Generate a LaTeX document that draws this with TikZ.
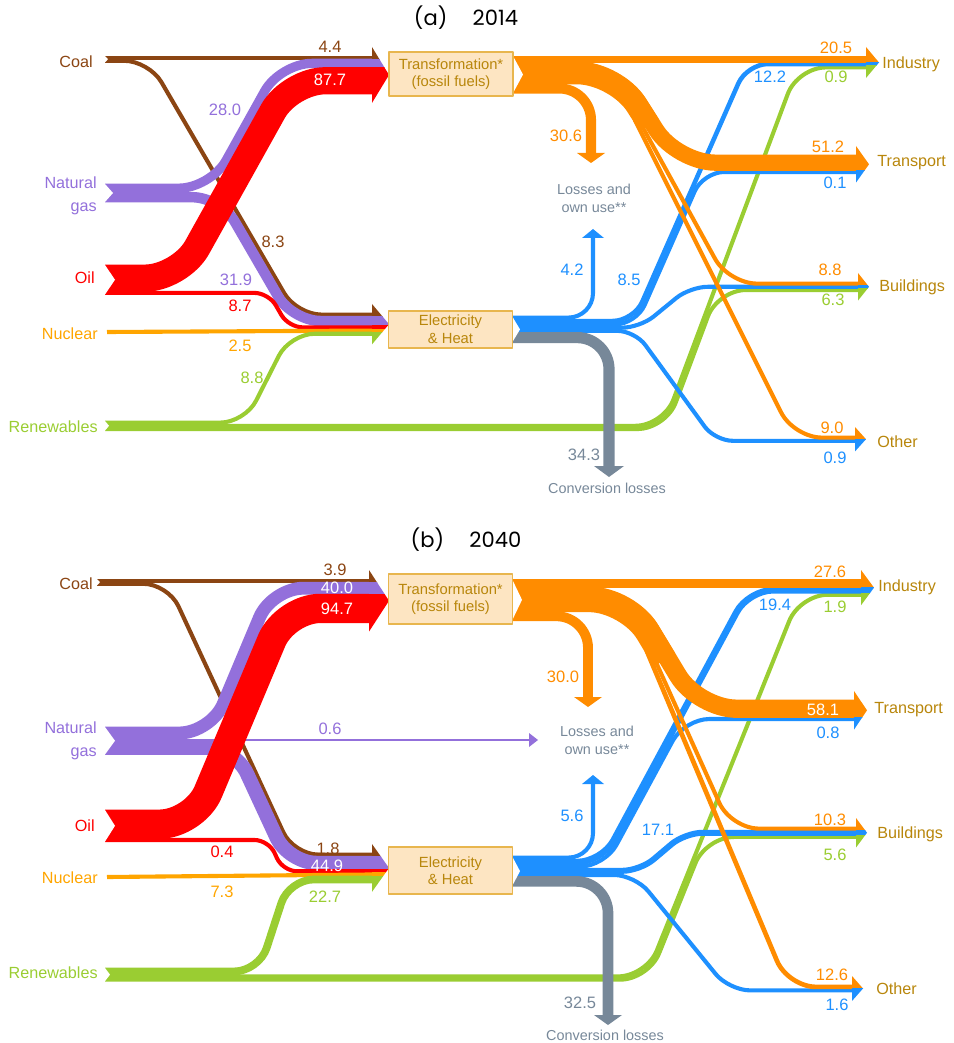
\documentclass[tikz,border=0pt]{standalone}
\usepackage{fontspec}
\setmainfont{Liberation Sans}
\newfontfamily\titlefont{Poppins}
\definecolor{cCoal}{HTML}{8B4513}
\definecolor{cGas}{HTML}{9370DB}
\definecolor{cOil}{HTML}{FF0000}
\definecolor{cNuc}{HTML}{FFA500}
\definecolor{cRen}{HTML}{9ACD32}
\definecolor{cTra}{HTML}{FF8C00}
\definecolor{cEle}{HTML}{1E90FF}
\definecolor{cLoss}{HTML}{778899}
\definecolor{cSect}{HTML}{B8860B}
\definecolor{cBoxFill}{HTML}{FDE5C2}
\definecolor{cBoxLine}{HTML}{E8B64E}
\tikzset{
  flow/.style={line width={(max(0.3*#1,3.2)+0.9)*0.569pt}},
  trunk/.style={line width={(#1+0.9)*0.569pt}},
  num/.style={font=\fontsize{9.4}{11}\selectfont, inner sep=0pt},
  src/.style={font=\fontsize{9.2}{13}\selectfont, inner sep=0pt, anchor=east, align=right},
  sector/.style={font=\fontsize{9.2}{11}\selectfont, inner sep=0pt, anchor=west, text=cSect},
  procbox/.style={draw=cBoxLine, fill=cBoxFill, line width=0.9pt, text=cSect, align=center,
    font=\fontsize{8.4}{10}\selectfont, minimum width=70.5pt, inner sep=0pt},
  sink/.style={font=\fontsize{8.2}{10.2}\selectfont, inner sep=0pt, text=cLoss, align=center},
  notch/.style={fill=white},
  paneltitle/.style={font=\titlefont\fontsize{12}{14}\selectfont, inner sep=0pt}
}
% arrow head made of the coloured bands: base x, tip x, top y, bottom y, bands
\newcommand\chev[5]{%
  \begin{scope}
    \clip (#1,#3-9) -- (#2,{(#3+#4)/2}) -- (#1,#4+9) -- cycle;
    \foreach \bc/\ya/\yb in {#5} \fill[\bc] (#1-1,\ya-0.4) rectangle (#2+1,\yb+0.4);
  \end{scope}}
\begin{document}
\begin{tikzpicture}[x=0.02cm, y=-0.02cm, line join=round]
\useasboundingbox (0,0) rectangle (953,1043);

%%%%% (a) 2014
\node[paneltitle] (titA) at (466,18) {(a)\hspace{1.2em}2014};
% primary energy
\draw[cCoal, flow=4.4] (105,57.6) -- (372,57.6);
\draw[cCoal, flow=8.3, rounded corners=14pt] (105,60.8) -- (149,60.8) -- (296.7,314.6) -- (372,314.6);
\draw[cGas, flow=28.0, rounded corners=18pt] (105,188.2) -- (210.6,188.2) -- (280.1,63.4) -- (372,63.4);
\draw[cGas, flow=31.9, rounded corners=16pt] (105,197.2) -- (220.6,197.2) -- (292.4,321) -- (372,321);
\draw[cOil, flow=87.7, rounded corners=20pt] (105,278.16) -- (180,278.16) -- (290,80.76) -- (372,80.76);
\draw[cOil, flow=8.7, rounded corners=8pt] (105,292.9) -- (268.6,292.9) -- (288.6,327.37) -- (372,327.37);
\draw[cNuc, flow=2.5] (107,332) -- (372,330.57);
\draw[cRen, flow=8.8, rounded corners=14pt] (105,422.6) -- (245,422.6) -- (290,333.77) -- (372,333.77);
\draw[cRen, flow=0.9, rounded corners=16pt] (105,425.8) -- (663.6,425.8) -- (797.7,67.41) -- (866,67.41);
\draw[cRen, flow=6.3, rounded corners=16pt] (105,429) -- (665.8,429) -- (717.8,290) -- (858,290);
% electricity & heat outputs
\draw[cEle, flow=12.2, rounded corners=12pt] (512,321.03) -- (633.8,321.03) -- (746.9,63.98) -- (866,63.98);
\draw[cEle, flow=0.1, rounded corners=12pt] (512,324.46) -- (636.1,324.46) -- (703.2,171.96) -- (856,171.96);
\draw[cEle, flow=8.5, rounded corners=10pt] (512,327.66) -- (640,327.66) -- (690,286.8) -- (858,286.8);
\draw[cEle, flow=0.9, rounded corners=10pt] (512,330.86) -- (635,330.86) -- (715,440.8) -- (855,440.8);
\draw[cEle, trunk=13.26] (512,325.83) -- (614,325.83);
\draw[cEle, flow=4.2, rounded corners=14pt] (512,317.6) -- (593,317.6) -- (593,238);
\fill[cEle] (582,238) -- (604,238) -- (593,229) -- cycle;
\draw[cLoss, flow=34.3, rounded corners=18pt] (512,337.6) -- (609,337.6) -- (609,466);
\fill[cLoss] (594,466) -- (624,466) -- (609,477) -- cycle;
% transformation outputs
\draw[cTra, flow=20.5] (513,59.08) -- (866,59.08);
\draw[cTra, flow=8.8, rounded corners=16pt] (638.7,120) -- (728.7,283.6) -- (858,283.6);
\draw[cTra, flow=9.0, rounded corners=16pt] (634.9,120) -- (793.7,437.6) -- (855,437.6);
\draw[cTra, trunk=21.76, rounded corners=22pt] (513,73.03) -- (616.2,73.03) -- (649.1,125);
\draw[cTra, flow=51.2, rounded corners=22pt] (513,69.83) -- (618,69.83) -- (677,162.68) -- (856,162.68);
\draw[cTra, flow=30.6, rounded corners=18pt] (513,88.5) -- (591,88.5) -- (591,153);
\fill[cTra] (577,153) -- (605,153) -- (591,163) -- cycle;
% arrow heads
\chev{372}{389}{56}{93.91}{cCoal/46/59.2, cGas/59.2/67.6, cOil/67.6/104}
\chev{372}{389}{313}{335.37}{cCoal/303/316.2, cGas/316.2/325.77, cOil/325.77/328.97, cNuc/328.97/332.17, cRen/332.17/346}
\chev{866}{879}{56}{69.01}{cTra/46/62.15, cEle/62.15/65.81, cRen/65.81/80}
\chev{856}{869}{155}{173.56}{cTra/145/170.36, cEle/170.36/184}
\chev{858}{869}{282}{291.6}{cTra/272/285.2, cEle/285.2/288.4, cRen/288.4/302}
\chev{855}{866}{436}{442.4}{cTra/426/439.2, cEle/439.2/453}
% tails
\fill[notch] (105,56) -- (108,59.2) -- (105,62.4) -- cycle;
\fill[notch] (105,184) -- (113,193) -- (105,202) -- cycle;
\fill[notch] (105,265) -- (115,279.75) -- (105,294.5) -- cycle;
\fill[notch] (105,421) -- (109,425.8) -- (105,430.6) -- cycle;
\fill[notch] (513,56) -- (523,74.55) -- (513,93.1) -- cycle;
\fill[notch] (512,316) -- (520,329.4) -- (512,342.75) -- cycle;
% boxes and labels
\node[procbox, minimum height=25pt] (trA) at (451,74) {Transformation*\\(fossil fuels)};
\node[procbox, minimum height=21pt] (elA) at (450.5,329.5) {Electricity\\\& Heat};
\node[src, text=cCoal] (coalA) at (93,62) {Coal};
\node[src, text=cGas] (gasA) at (97,195.5) {Natural\\gas};
\node[src, text=cOil] (oilA) at (95,278) {Oil};
\node[src, text=cNuc] (nucA) at (98,334) {Nuclear};
\node[src, text=cRen] (renA) at (98,427) {Renewables};
\node[sector] (indA) at (882,64) {Industry};
\node[sector] (trpA) at (877,163) {Transport};
\node[sector] (bldA) at (879,287) {Buildings};
\node[sector] (othA) at (877,442) {Other};
\node[sink] (lossA) at (594,198) {Losses and\\own use**};
\node[sink] (convA) at (607,488) {Conversion losses};
\foreach \val/\col/\px/\py [count=\i] in {4.4/cCoal/330/47, 87.7/white/330/80, 28.0/cGas/225/110,
    8.3/cCoal/273/242, 31.9/cGas/236/280, 8.7/cOil/240/306, 2.5/cNuc/240/346, 8.8/cRen/252/378,
    20.5/cTra/836/48, 12.2/cEle/770/77, 0.9/cRen/836/77, 30.6/cTra/566/136, 51.2/cTra/828/147,
    0.1/cEle/835/183, 4.2/cEle/572/270, 8.5/cEle/629/280, 8.8/cTra/830/270, 6.3/cRen/833/300,
    34.3/cLoss/584/455, 9.0/cTra/832/428, 0.9/cEle/835/458}
  \node[num, text=\col] (vA\i) at (\px,\py) {\val};

%%%%% (b) 2040
\node[paneltitle] (titB) at (466,540) {(b)\hspace{1.2em}2040};
% primary energy
\draw[cCoal, flow=3.9] (97,580.6) -- (369,580.6);
\draw[cCoal, flow=1.8, rounded corners=14pt] (97,583.8) -- (168,583.8) -- (293.7,854.6) -- (372,854.6);
\draw[cGas, flow=40.0, rounded corners=18pt] (105,733) -- (211,733) -- (271.8,588.2) -- (369,588.2);
\draw[cGas, line width=1.2pt] (105,740) -- (529,740);
\fill[cGas] (529,733) -- (538,740) -- (529,747) -- cycle;
\draw[cGas, flow=44.9, rounded corners=16pt] (105,747.7) -- (235,747.7) -- (288.4,862.94) -- (372,862.94);
\draw[cOil, flow=94.7, rounded corners=20pt] (105,824.2) -- (194.6,824.2) -- (285.2,608.4) -- (369,608.4);
\draw[cOil, flow=0.4, rounded corners=8pt] (105,840) -- (268.6,840) -- (283,871.27) -- (372,871.27);
\draw[cNuc, flow=7.3] (107,877) -- (372,874.47);
\draw[cRen, flow=22.7, rounded corners=14pt] (105,971.4) -- (259,971.4) -- (289,879.48) -- (372,879.48);
\draw[cRen, flow=1.9, rounded corners=16pt] (105,976.4) -- (646.4,976.4) -- (799.8,594.7) -- (861,594.7);
\draw[cRen, flow=5.6, rounded corners=16pt] (105,979.6) -- (648.5,979.6) -- (706,836.93) -- (856,836.93);
% electricity & heat outputs
\draw[cEle, flow=19.4, rounded corners=14pt] (512,862.1) -- (602,862.1) -- (748.4,590.19) -- (861,590.19);
\draw[cEle, flow=0.8, rounded corners=14pt] (512,866.6) -- (604.7,866.6) -- (684.5,719.03) -- (854,719.03);
\draw[cEle, flow=17.1, rounded corners=10pt] (512,870.8) -- (640,870.8) -- (685,832.77) -- (856,832.77);
\draw[cEle, flow=1.6, rounded corners=12pt] (512,874.95) -- (635,874.95) -- (729,990.38) -- (852,990.38);
\draw[cEle, trunk=17.35] (512,867.88) -- (584,867.88);
\draw[cEle, flow=5.6, rounded corners=14pt] (512,857.6) -- (593,857.6) -- (593,784);
\fill[cEle] (582,784) -- (604,784) -- (593,775) -- cycle;
\draw[cLoss, flow=32.5, rounded corners=18pt] (512,881.4) -- (608,881.4) -- (608,1015);
\fill[cLoss] (594,1015) -- (622,1015) -- (608,1025) -- cycle;
% transformation outputs
\draw[cTra, flow=27.6] (512,583.14) -- (861,583.14);
\draw[cTra, flow=10.3, rounded corners=16pt] (650.5,650) -- (730.9,828.6) -- (856,828.6);
\draw[cTra, flow=12.6, rounded corners=16pt] (646.4,650) -- (787.9,986.89) -- (852,986.89);
\draw[cTra, trunk=24.42, rounded corners=22pt] (512,599.49) -- (628,599.49) -- (664.5,660);
\draw[cTra, flow=58.1, rounded corners=22pt] (512,596) -- (630,596) -- (698,708.72) -- (854,708.72);
\draw[cTra, flow=30.0, rounded corners=18pt] (512,616.2) -- (588,616.2) -- (588,697);
\fill[cTra] (574,697) -- (602,697) -- (588,707) -- cycle;
% arrow heads
\chev{369}{389}{579}{622.61}{cCoal/569/582.2, cGas/582.2/594.2, cOil/594.2/633}
\chev{372}{389}{853}{882.88}{cCoal/843/856.2, cGas/856.2/869.67, cOil/869.67/872.87, cNuc/872.87/876.07, cRen/876.07/893}
\chev{861}{874}{579}{596.3}{cTra/569/587.28, cEle/587.28/593.1, cRen/593.1/607}
\chev{854}{867}{700}{720.63}{cTra/690/717.43, cEle/717.43/731}
\chev{856}{867}{827}{838.53}{cTra/817/830.2, cEle/830.2/835.33, cRen/835.33/849}
\chev{852}{863}{985}{991.98}{cTra/975/988.78, cEle/988.78/1002}
% tails
\fill[notch] (97,579) -- (100,582.2) -- (97,585.4) -- cycle;
\fill[notch] (105,727) -- (115,740.75) -- (105,754.5) -- cycle;
\fill[notch] (105,810) -- (115,825.8) -- (105,841.6) -- cycle;
\fill[notch] (105,968) -- (110,974.6) -- (105,981.2) -- cycle;
\fill[notch] (512,579) -- (522,599.85) -- (512,620.7) -- cycle;
\fill[notch] (512,856) -- (520,871.15) -- (512,886.3) -- cycle;
% boxes and labels
\node[procbox, minimum height=28.5pt] (trB) at (450.5,599) {Transformation*\\(fossil fuels)};
\node[procbox, minimum height=26.7pt] (elB) at (450.5,870.5) {Electricity\\\& Heat};
\node[src, text=cCoal] (coalB) at (93,584) {Coal};
\node[src, text=cGas] (gasB) at (97,740.5) {Natural\\gas};
\node[src, text=cOil] (oilB) at (95,826) {Oil};
\node[src, text=cNuc] (nucB) at (98,878) {Nuclear};
\node[src, text=cRen] (renB) at (98,973) {Renewables};
\node[sector] (indB) at (878,587) {Industry};
\node[sector] (trpB) at (874,710) {Transport};
\node[sector] (bldB) at (877,834) {Buildings};
\node[sector] (othB) at (876,989) {Other};
\node[sink] (lossB) at (597,740) {Losses and\\own use**};
\node[sink] (convB) at (605,1035) {Conversion losses};
\foreach \val/\col/\px/\py [count=\i] in {3.9/cCoal/335/570, 40.0/white/337/588, 94.7/white/337/609,
    0.6/cGas/330/729, 1.8/cCoal/328/849, 44.9/white/327/866, 0.4/cOil/222/852, 7.3/cNuc/222/892,
    22.7/cRen/325/897, 27.6/cTra/830/572, 19.4/cEle/775/605, 1.9/cRen/835/607, 30.0/cTra/563/677,
    58.1/white/823/710, 0.8/cEle/828/733, 5.6/cEle/572/816, 17.1/cEle/658/830, 10.3/cTra/830/820,
    5.6/cRen/835/855, 32.5/cLoss/580/1003, 12.6/cTra/832/975, 1.6/cEle/837/1005}
  \node[num, text=\col] (vB\i) at (\px,\py) {\val};
\end{tikzpicture}
\end{document}
